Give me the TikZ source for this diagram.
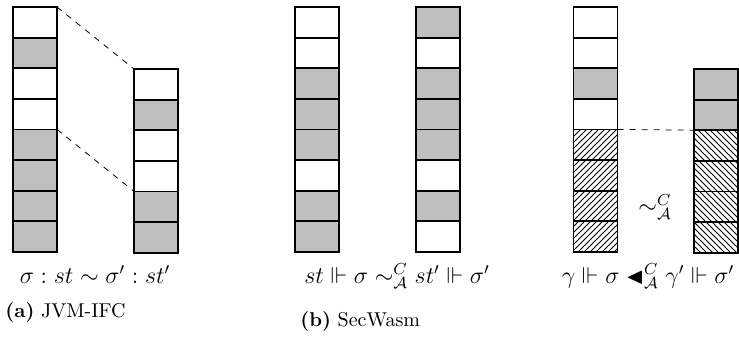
\documentclass[tikz,border=0pt]{standalone}
\usepackage{amsmath}
\usepackage{amssymb}
\usetikzlibrary{patterns}

\tikzset{
  cell/.style={draw,line width=0.9pt,rectangle,minimum width=22pt,minimum height=15.3pt,inner sep=0pt,outer sep=0pt},
  cw/.style={cell,fill=white},
  cg/.style={cell,fill=gray!50},
  cne/.style={cell,pattern=north east lines},
  cnw/.style={cell,pattern=north west lines},
  rel/.style={anchor=base,inner sep=0pt,font=\fontsize{11.5}{14}\selectfont},
  captext/.style={anchor=base west,inner sep=0pt},
}

\begin{document}
\begin{tikzpicture}[x=0.5pt,y=-0.5pt]
    \useasboundingbox (0,0) rectangle (739,338);
    % (a) JVM-IFC
    \foreach \s [count=\i] in {cw,cg,cw,cw,cg,cg,cg,cg}
        \node[\s] (aL\i) at (35,{7+(\i-0.5)*30.6}) {};
    \foreach \s [count=\i] in {cw,cg,cw,cw,cg,cg}
        \node[\s] (aR\i) at (156,{69+(\i-0.5)*30.6}) {};
    \draw[dashed] (aL1.north east) -- (aR1.north west);
    \draw[dashed] (aL5.north east) -- (aR5.north west);
    \node[rel] (relA) at (95,283) {$\sigma : st \sim \sigma' : st'$};
    \node[captext] (capA) at (5,317) {\textbf{(a)} JVM-IFC};
    % (b) SecWasm
    \foreach \s [count=\i] in {cw,cw,cg,cg,cg,cw,cg,cg}
        \node[\s] (bL\i) at (317,{7+(\i-0.5)*30.6}) {};
    \foreach \s [count=\i] in {cg,cw,cg,cg,cg,cw,cg,cw}
        \node[\s] (bR\i) at (438,{7+(\i-0.5)*30.6}) {};
    \node[rel] (relB) at (397,283) {$st \Vdash \sigma \sim^{C}_{\mathcal{A}} st' \Vdash \sigma'$};
    \node[captext] (capB) at (300,326) {\textbf{(b)} SecWasm};
    % third pair
    \foreach \s [count=\i] in {cw,cw,cg,cw,cne,cne,cne,cne}
        \node[\s] (cL\i) at (595.5,{7+(\i-0.5)*30.6}) {};
    \foreach \s [count=\i] in {cg,cg,cnw,cnw,cnw,cnw}
        \node[\s] (cR\i) at (716,{69+(\i-0.5)*30.6}) {};
    \draw[dashed] (cL5.north east) -- (cR3.north west);
    \node[rel,anchor=center] (simC) at (655,207) {$\sim^{C}_{\mathcal{A}}$};
    \node[rel] (relC) at (648,283) {$\gamma \Vdash \sigma \blacktriangleleft^{C}_{\mathcal{A}} \gamma' \Vdash \sigma'$};
\end{tikzpicture}
\end{document}
